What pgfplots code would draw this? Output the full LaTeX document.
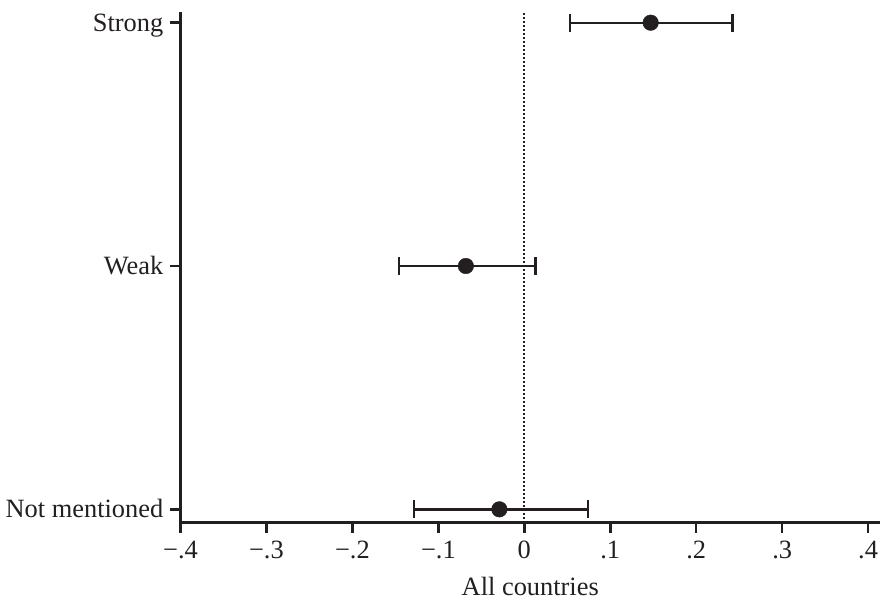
\documentclass[border=0pt]{standalone}
\usepackage{pgfplots}
\pgfplotsset{compat=1.18}
\usepackage{fontspec}
\setmainfont{Liberation Serif}
\definecolor{ink}{HTML}{231F20}
\newcommand{\bigfont}{\fontsize{26.4pt}{30pt}\selectfont}
\begin{document}
\bigfont
\begin{tikzpicture}
\begin{axis}[
  scale only axis, width=699.5pt, height=510.7pt,
  xmin=-0.4, xmax=0.4138, ymin=-0.055, ymax=2.044,
  axis x line*=bottom, axis y line*=left,
  axis line style={line width=2.5pt, color=ink, -},
  xtick={-0.4,-0.3,-0.2,-0.1,0,0.1,0.2,0.3,0.4},
  xticklabels={−.4,−.3,−.2,−.1,0,.1,.2,.3,.4},
  ytick={0,1,2},
  yticklabels={Not mentioned,Weak,Strong},
  tick align=outside, major tick length=10pt,
  tick style={line width=2.5pt, color=ink},
  every tick label/.append style={font=\bigfont, text=ink, inner sep=0pt},
  xticklabel style={anchor=base, yshift=-26pt},
  yticklabel style={anchor=base east, xshift=-7pt, yshift=-8.5pt},
  xlabel={All countries},
  xlabel style={font=\bigfont, text=ink, inner sep=0pt, at={(axis description cs:0.5,0)}, anchor=base, yshift=-72.3pt},
  clip=false,
]
\addplot[ink, line width=2pt, dash pattern=on 2pt off 2pt] coordinates {(0,-0.055) (0,2.044)};
\addplot[only marks, mark=*, mark size=7.8pt, color=ink, mark options={fill=ink, draw=ink},
  error bars/.cd, x dir=both, x explicit,
  error bar style={line width=2.4pt, color=ink},
  error mark options={rotate=90, mark size=9pt, line width=2.4pt, color=ink}]
  coordinates {
    (0.147,2) += (0.095,0) -= (0.094,0)
    (-0.068,1) += (0.081,0) -= (0.078,0)
    (-0.029,0) += (0.103,0) -= (0.099,0)
  };
\end{axis}
\pgfresetboundingbox
\path[use as bounding box] (-180.5pt,-77.3pt) rectangle (701.5pt,522.7pt);
\end{tikzpicture}
\end{document}
